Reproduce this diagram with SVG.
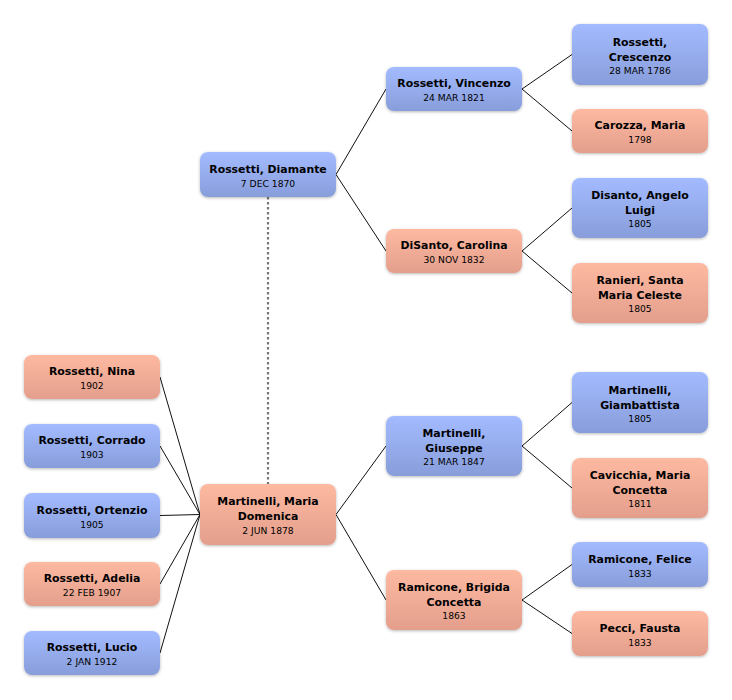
<svg xmlns="http://www.w3.org/2000/svg" width="732" height="700" viewBox="0 0 732 700">
<defs>
<linearGradient id="gb" x1="0" y1="0" x2="0" y2="1"><stop offset="0" stop-color="#a3bbff"/><stop offset="1" stop-color="#889dda"/></linearGradient>
<linearGradient id="gp" x1="0" y1="0" x2="0" y2="1"><stop offset="0" stop-color="#feb9a1"/><stop offset="1" stop-color="#e39f8c"/></linearGradient>
<filter id="sh" x="-10%" y="-20%" width="120%" height="150%"><feDropShadow dx="0" dy="1" stdDeviation="1.5" flood-color="#000" flood-opacity="0.28"/></filter>
</defs>
<style>
.b{fill:url(#gb);filter:url(#sh)}
.p{fill:url(#gp);filter:url(#sh)}
.n{font-family:"DejaVu Sans","Liberation Sans",sans-serif;font-weight:bold;font-size:10.9px;fill:#000;text-anchor:middle}
.d{font-family:"DejaVu Sans","Liberation Sans",sans-serif;font-size:9.2px;fill:#000;text-anchor:middle}
.c{stroke:#111;stroke-width:1;fill:none}
.dash{stroke:#777;stroke-width:2.2;stroke-dasharray:2.5 2.5;fill:none}
</style>
<rect width="732" height="700" fill="#fff"/>
<g id="connectors">
<line class="dash" x1="268" y1="197" x2="268" y2="484"/>
<path class="c" d="M336 174.5L386 89M336 174.5L386 251"/>
<path class="c" d="M522 89L572 54.5M522 89L572 131"/>
<path class="c" d="M522 251L572 208M522 251L572 293"/>
<path class="c" d="M336 514.5L386 446M336 514.5L386 600"/>
<path class="c" d="M522 446L572 402.5M522 446L572 488"/>
<path class="c" d="M522 600L572 564.5M522 600L572 633.5"/>
<path class="c" d="M160 377L200 514.5M160 446L200 514.5M160 515.5L200 514.5M160 584L200 514.5M160 653L200 514.5"/>
</g>
<g id="diamante"><rect class="b" x="200" y="152" width="136" height="45" rx="8"/><text class="n" x="268" y="172.5">Rossetti, Diamante</text><text class="d" x="268" y="186.5">7 DEC 1870</text></g>
<g id="vincenzo"><rect class="b" x="386" y="67" width="136" height="44" rx="8"/><text class="n" x="454" y="87">Rossetti, Vincenzo</text><text class="d" x="454" y="101">24 MAR 1821</text></g>
<g id="carolina"><rect class="p" x="386" y="229" width="136" height="44" rx="8"/><text class="n" x="454" y="249">DiSanto, Carolina</text><text class="d" x="454" y="263">30 NOV 1832</text></g>
<g id="crescenzo"><rect class="b" x="572" y="24" width="136" height="61" rx="8"/><text class="n" x="640" y="45.5">Rossetti,</text><text class="n" x="640" y="60.5">Crescenzo</text><text class="d" x="640" y="73.5">28 MAR 1786</text></g>
<g id="carozza"><rect class="p" x="572" y="109" width="136" height="44" rx="8"/><text class="n" x="640" y="129">Carozza, Maria</text><text class="d" x="640" y="143">1798</text></g>
<g id="angelo"><rect class="b" x="572" y="178" width="136" height="60" rx="8"/><text class="n" x="640" y="199">Disanto, Angelo</text><text class="n" x="640" y="214">Luigi</text><text class="d" x="640" y="227">1805</text></g>
<g id="ranieri"><rect class="p" x="572" y="263" width="136" height="60" rx="8"/><text class="n" x="640" y="284">Ranieri, Santa</text><text class="n" x="640" y="299">Maria Celeste</text><text class="d" x="640" y="312">1805</text></g>
<g id="nina"><rect class="p" x="24" y="355" width="136" height="44" rx="8"/><text class="n" x="92" y="375">Rossetti, Nina</text><text class="d" x="92" y="389">1902</text></g>
<g id="corrado"><rect class="b" x="24" y="424" width="136" height="44" rx="8"/><text class="n" x="92" y="444">Rossetti, Corrado</text><text class="d" x="92" y="458">1903</text></g>
<g id="ortenzio"><rect class="b" x="24" y="493" width="136" height="45" rx="8"/><text class="n" x="92" y="513.5">Rossetti, Ortenzio</text><text class="d" x="92" y="527.5">1905</text></g>
<g id="adelia"><rect class="p" x="24" y="562" width="136" height="44" rx="8"/><text class="n" x="92" y="582">Rossetti, Adelia</text><text class="d" x="92" y="596">22 FEB 1907</text></g>
<g id="lucio"><rect class="b" x="24" y="631" width="136" height="44" rx="8"/><text class="n" x="92" y="651">Rossetti, Lucio</text><text class="d" x="92" y="665">2 JAN 1912</text></g>
<g id="maria-domenica"><rect class="p" x="200" y="484" width="136" height="61" rx="8"/><text class="n" x="268" y="505">Martinelli, Maria</text><text class="n" x="268" y="520">Domenica</text><text class="d" x="268" y="533.5">2 JUN 1878</text></g>
<g id="giuseppe"><rect class="b" x="386" y="416" width="136" height="60" rx="8"/><text class="n" x="454" y="436.5">Martinelli,</text><text class="n" x="454" y="451.5">Giuseppe</text><text class="d" x="454" y="464.5">21 MAR 1847</text></g>
<g id="brigida"><rect class="p" x="386" y="570" width="136" height="60" rx="8"/><text class="n" x="454" y="590.5">Ramicone, Brigida</text><text class="n" x="454" y="605.5">Concetta</text><text class="d" x="454" y="618.5">1863</text></g>
<g id="giambattista"><rect class="b" x="572" y="372" width="136" height="61" rx="8"/><text class="n" x="640" y="393.5">Martinelli,</text><text class="n" x="640" y="408.5">Giambattista</text><text class="d" x="640" y="421.5">1805</text></g>
<g id="cavicchia"><rect class="p" x="572" y="458" width="136" height="60" rx="8"/><text class="n" x="640" y="479">Cavicchia, Maria</text><text class="n" x="640" y="494">Concetta</text><text class="d" x="640" y="507">1811</text></g>
<g id="felice"><rect class="b" x="572" y="542" width="136" height="45" rx="8"/><text class="n" x="640" y="562.5">Ramicone, Felice</text><text class="d" x="640" y="576.5">1833</text></g>
<g id="pecci"><rect class="p" x="572" y="611" width="136" height="45" rx="8"/><text class="n" x="640" y="631.5">Pecci, Fausta</text><text class="d" x="640" y="645.5">1833</text></g>
</svg>
